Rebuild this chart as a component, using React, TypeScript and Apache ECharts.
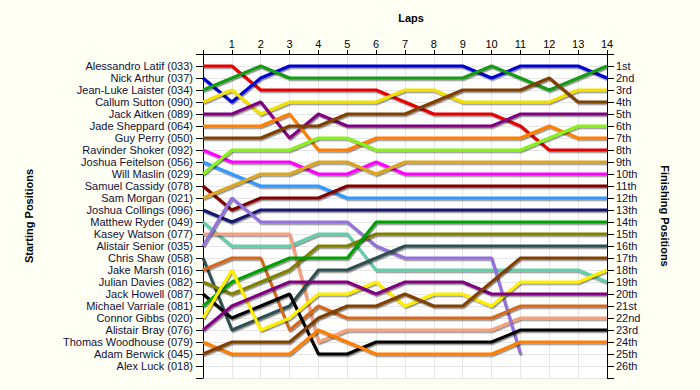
import React, { useEffect, useRef } from "react";
import * as echarts from "echarts";

const drivers = [
  "Alessandro Latif (033)", "Nick Arthur (037)", "Jean-Luke Laister (034)", "Callum Sutton (090)",
  "Jack Aitken (089)", "Jade Sheppard (064)", "Guy Perry (050)", "Ravinder Shoker (092)",
  "Joshua Feitelson (056)", "Will Maslin (029)", "Samuel Cassidy (078)", "Sam Morgan (021)",
  "Joshua Collings (096)", "Matthew Ryder (049)", "Kasey Watson (077)", "Alistair Senior (035)",
  "Chris Shaw (058)", "Jake Marsh (016)", "Julian Davies (082)", "Jack Howell (087)",
  "Michael Varriale (081)", "Connor Gibbs (020)", "Alistair Bray (076)", "Thomas Woodhouse (079)",
  "Adam Berwick (045)", "Alex Luck (018)",
];

const finishLabels = [
  "1st", "2nd", "3rd", "4th", "5th", "6th", "7th", "8th", "9th", "10th", "11th", "12th", "13th",
  "14th", "15th", "16th", "17th", "18th", "19th", "20th", "21st", "22nd", "23rd", "24th", "25th", "26th",
];

const laps = [0, 1, 2, 3, 4, 5, 6, 7, 8, 9, 10, 11, 12, 13, 14];

// positions per lap (lap 0 = start)
const latif = [1, 1, 3, 3, 3, 3, 3, 4, 5, 5, 5, 6, 8, 8, 8];
const arthur = [2, 4, 2, 1, 1, 1, 1, 1, 1, 1, 2, 1, 1, 1, 2];
const laister = [3, 2, 1, 2, 2, 2, 2, 2, 2, 2, 1, 2, 3, 2, 1];
const sutton = [4, 3, 5, 4, 4, 4, 4, 3, 3, 4, 4, 4, 4, 3, 3];
const aitken = [5, 5, 4, 7, 5, 6, 6, 6, 6, 6, 6, 5, 5, 5, 5];
const sheppard = [6, 6, 6, 5, 8, 8, 7, 7, 7, 7, 7, 7, 6, 7, 7];
const perry = [7, 7, 7, 6, 6, 5, 5, 5, 4, 3, 3, 3, 2, 4, 4];
const shoker = [8, 9, 9, 9, 10, 10, 9, 10, 10, 10, 10, 10, 10, 10, 10];
const feitelson = [9, 10, 11, 11, 11, 12, 12, 12, 12, 12, 12, 12, 12, 12, 12];
const maslin = [10, 8, 8, 8, 7, 7, 8, 8, 8, 8, 8, 8, 7, 6, 6];
const cassidy = [11, 13, 12, 12, 12, 11, 11, 11, 11, 11, 11, 11, 11, 11, 11];
const morgan = [12, 11, 10, 10, 9, 9, 10, 9, 9, 9, 9, 9, 9, 9, 9];
const collings = [13, 14, 13, 13, 13, 13, 13, 13, 13, 13, 13, 13, 13, 13, 13];
const ryder = [14, 16, 16, 16, 15, 15, 18, 18, 18, 18, 18, 18, 18, 18, 19];
const watson = [15, 15, 15, 15, 24, 23, 23, 23, 23, 23, 23, 22, 22, 22, 22];
const senior = [16, 12, 14, 14, 14, 14, 16, 17, 17, 17, 17, 25];
const shaw = [17, 23, 22, 21, 18, 18, 17, 16, 16, 16, 16, 16, 16, 16, 16];
const marsh = [18, 17, 17, 23, 21, 22, 22, 22, 22, 22, 22, 21, 21, 21, 21];
const davies = [19, 20, 19, 18, 16, 16, 15, 15, 15, 15, 15, 15, 15, 15, 15];
const howell = [20, 22, 21, 20, 25, 25, 24, 24, 24, 24, 24, 23, 23, 23, 23];
const varriale = [21, 19, 18, 17, 17, 17, 14, 14, 14, 14, 14, 14, 14, 14, 14];
const gibbs = [22, 18, 23, 22, 20, 20, 19, 21, 20, 20, 21, 19, 19, 19, 18];
const bray = [23, 21, 20, 19, 19, 19, 20, 19, 19, 19, 20, 20, 20, 20, 20];
const woodhouse = [24, 25, 25, 25, 23, 24, 25, 25, 25, 25, 25, 24, 24, 24, 24];
const berwick = [25, 24, 24, 24, 22, 21, 21, 20, 21, 21, 19, 17, 17, 17, 17];
const luck: number[] = [];

const positions = [
  latif, arthur, laister, sutton, aitken, sheppard, perry, shoker, feitelson, maslin,
  cassidy, morgan, collings, ryder, watson, senior, shaw, marsh, davies, howell,
  varriale, gibbs, bray, woodhouse, berwick, luck,
];

const colors = [
  "#e60000", "#0000d2", "#169b16", "#f2e000", "#800080", "#ff8000", "#7f3f00", "#ff00ff",
  "#3399ff", "#88f01a", "#800000", "#daa520", "#191970", "#66cdaa", "#f5a07a", "#9370db",
  "#2f4f4f", "#d2691e", "#808000", "#000000", "#00a000", "#ffee00", "#800080", "#ff8000",
  "#7f3f00", "#888888",
];

export default function App() {
  const ref = useRef<HTMLDivElement>(null);
  useEffect(() => {
    if (!ref.current) return;
    const chart = echarts.init(ref.current, undefined, { renderer: "svg" });
    const font = "Liberation Sans, Arial, sans-serif";
    const labelColor = "#10103a";
    const series = drivers.map((name, i) => ({
      name,
      type: "line",
      yAxisIndex: 0,
      symbol: "none",
      showSymbol: false,
      data: positions[i].map((p, k) => [laps[k], p]),
      lineStyle: {
        width: 3,
        color: colors[i],
        shadowColor: "rgba(0,0,0,0.45)",
        shadowBlur: 1,
        shadowOffsetX: 1,
        shadowOffsetY: 1.5,
      },
      itemStyle: { color: colors[i] },
      z: 3,
    }));
    chart.setOption({
      animation: false,
      backgroundColor: "#fffff4",
      grid: {
        left: 203,
        right: 93,
        top: 54,
        bottom: 12,
        show: true,
        backgroundColor: "#ffffff",
        borderWidth: 0,
      },
      xAxis: {
        type: "value",
        position: "top",
        min: 0,
        max: 14,
        interval: 1,
        axisLine: { show: true, onZero: false, lineStyle: { color: "#000", width: 1 } },
        axisTick: { show: true, length: 4, lineStyle: { color: "#000" } },
        axisLabel: {
          margin: 5,
          color: "#000",
          fontFamily: font,
          fontSize: 11,
          formatter: (v: number) => (v === 0 ? "" : String(v)),
        },
        splitLine: { show: true, lineStyle: { color: "#e6e6e6", width: 1 } },
      },
      yAxis: [
        {
          type: "value",
          position: "left",
          inverse: true,
          min: 0,
          max: 27,
          interval: 1,
          axisLine: { show: true, onZero: false, lineStyle: { color: "#000", width: 1 } },
          axisTick: { show: true, length: 7, lineStyle: { color: "#000" } },
          axisLabel: {
            margin: 10,
            color: labelColor,
            fontFamily: font,
            fontSize: 11,
            formatter: (v: number) => drivers[v - 1] || "",
          },
          splitLine: { show: true, lineStyle: { color: "#e6e6e6", width: 1 } },
        },
        {
          type: "value",
          position: "right",
          inverse: true,
          min: 0,
          max: 27,
          interval: 1,
          axisLine: { show: true, onZero: false, lineStyle: { color: "#000", width: 1 } },
          axisTick: { show: true, length: 7, lineStyle: { color: "#000" } },
          axisLabel: {
            margin: 9,
            color: labelColor,
            fontFamily: font,
            fontSize: 11,
            formatter: (v: number) => finishLabels[v - 1] || "",
          },
          splitLine: { show: false },
        },
      ],
      graphic: [
        {
          type: "text",
          x: 411,
          y: 18,
          style: {
            text: "Laps",
            font: "bold 11px Liberation Sans, Arial, sans-serif",
            fill: "#000",
            align: "center",
            verticalAlign: "middle",
          },
        },
        {
          type: "text",
          x: 29,
          y: 216,
          rotation: Math.PI / 2,
          style: {
            text: "Starting Positions",
            font: "bold 11px Liberation Sans, Arial, sans-serif",
            fill: "#000",
            align: "center",
            verticalAlign: "middle",
          },
        },
        {
          type: "text",
          x: 665,
          y: 216,
          rotation: -Math.PI / 2,
          style: {
            text: "Finishing Positions",
            font: "bold 11px Liberation Sans, Arial, sans-serif",
            fill: "#000",
            align: "center",
            verticalAlign: "middle",
          },
        },
      ],
      series,
    });
    return () => chart.dispose();
  }, []);
  return <div ref={ref} style={{ width: 700, height: 390, position: "absolute", left: 0, top: 0 }} />;
}
